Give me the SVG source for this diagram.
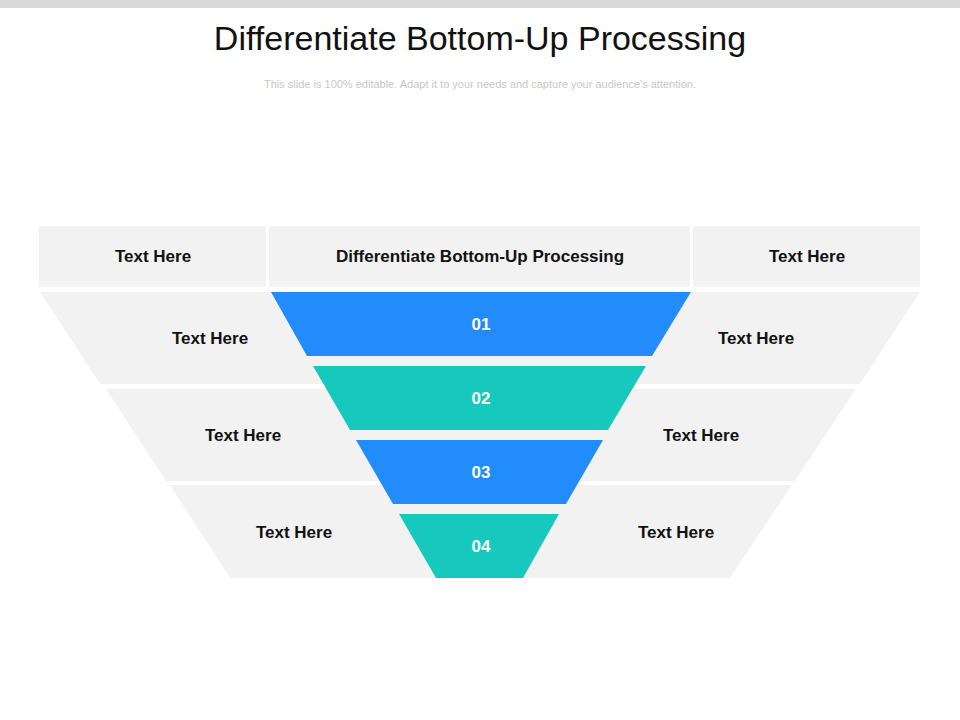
<svg xmlns="http://www.w3.org/2000/svg" width="960" height="720" viewBox="0 0 960 720">
<style>
.g{fill:#f2f2f2}.b{fill:#228cfc}.t{fill:#17c9bc}
.l{font-family:"Liberation Sans",Arial,sans-serif;font-weight:bold;font-size:17px;fill:#111;text-anchor:middle;dominant-baseline:central}
.n{font-family:"Liberation Sans",Arial,sans-serif;font-weight:bold;font-size:17px;fill:#fff;text-anchor:middle;dominant-baseline:central}
</style>
<rect width="960" height="720" fill="#fff"/>
<rect x="0" y="0" width="960" height="8" fill="#d9d9d9"/>
<text x="480" y="38" font-family="Liberation Sans,Arial,sans-serif" font-size="34" fill="#111" text-anchor="middle" dominant-baseline="central">Differentiate Bottom-Up Processing</text>
<text x="480" y="84" font-family="Liberation Sans,Arial,sans-serif" font-size="11" fill="#c8c8c8" text-anchor="middle" dominant-baseline="central">This slide is 100% editable. Adapt it to your needs and capture your audience's attention.</text>
<g id="header">
<rect class="g" x="39" y="226" width="227" height="61"/><text class="l" x="153" y="256">Text Here</text>
<rect class="g" x="269" y="226" width="421" height="61"/><text class="l" x="480" y="256">Differentiate Bottom-Up Processing</text>
<rect class="g" x="693" y="226" width="227" height="61"/><text class="l" x="807" y="256">Text Here</text>
</g>
<g id="band1"><polygon class="g" points="40,292 920,292 860,384 100,384"/><text class="l" x="210" y="338">Text Here</text><text class="l" x="756" y="338">Text Here</text></g>
<g id="band2"><polygon class="g" points="106,389 856,389 795,481 166,481"/><text class="l" x="243" y="435">Text Here</text><text class="l" x="701" y="435">Text Here</text></g>
<g id="band3"><polygon class="g" points="170,485 792,485 730,578 230,578"/><text class="l" x="294" y="532">Text Here</text><text class="l" x="676" y="532">Text Here</text></g>
<g id="step1"><polygon class="b" points="271,292 691,292 652,356 307,356"/><text class="n" x="481" y="324">01</text></g>
<g id="step2"><polygon class="t" points="313,366 646,366 608,430 350,430"/><text class="n" x="481" y="398">02</text></g>
<g id="step3"><polygon class="b" points="356,440 603,440 566,504 393,504"/><text class="n" x="481" y="472">03</text></g>
<g id="step4"><polygon class="t" points="399,514 559,514 523,578 436,578"/><text class="n" x="481" y="546">04</text></g>
<g id="connectors"/>
</svg>
